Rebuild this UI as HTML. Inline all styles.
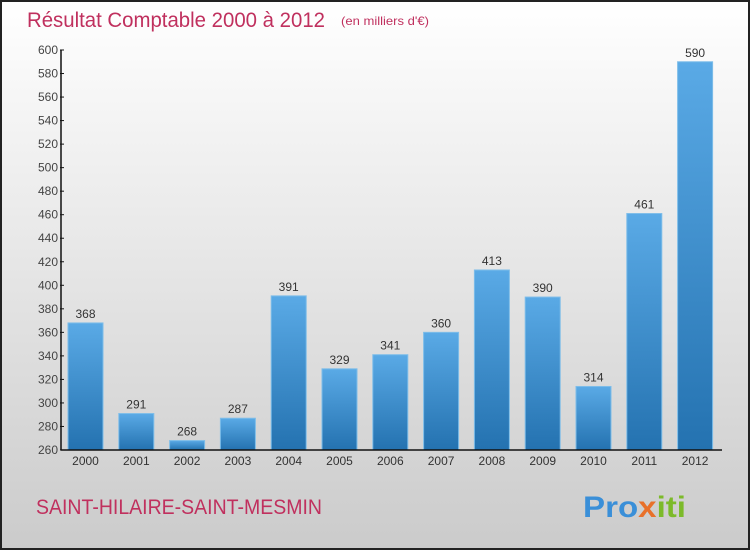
<!DOCTYPE html>
<html><head><meta charset="utf-8"><style>
html,body{margin:0;padding:0}
body{width:750px;height:550px;overflow:hidden}
svg{display:block;font-family:"Liberation Sans",sans-serif}
</style></head><body>
<svg width="750" height="550">
<defs>
<linearGradient id="bg" x1="0" y1="0" x2="0" y2="1"><stop offset="0" stop-color="#ffffff"/><stop offset="1" stop-color="#cbcbcb"/></linearGradient>
<linearGradient id="bar" x1="0" y1="0" x2="0" y2="1"><stop offset="0" stop-color="#5aaae6"/><stop offset="1" stop-color="#2472b0"/></linearGradient>
</defs>
<rect x="1" y="1" width="748" height="548" fill="url(#bg)" stroke="#222" stroke-width="2"/>
<text x="27" y="27" font-size="21" fill="#c0305e" textLength="298" lengthAdjust="spacingAndGlyphs">Résultat Comptable 2000 à 2012</text>
<text x="341" y="25" font-size="12" fill="#c0305e" textLength="88" lengthAdjust="spacingAndGlyphs">(en milliers d'€)</text>
<g id="yaxis"></g>
<g id="bars"></g>
<g id="xaxis"></g>
<text x="36" y="514" font-size="21" fill="#c0305e" textLength="286" lengthAdjust="spacingAndGlyphs">SAINT-HILAIRE-SAINT-MESMIN</text>
<text x="583" y="517" font-size="30" font-weight="bold" textLength="103" lengthAdjust="spacingAndGlyphs"><tspan fill="#3a8fd8">Pro</tspan><tspan fill="#e8702a">x</tspan><tspan fill="#7cba2a">iti</tspan></text>
</svg>
<script>
const categories=["2000","2001","2002","2003","2004","2005","2006","2007","2008","2009","2010","2011","2012"];
const values=[368,291,268,287,391,329,341,360,413,390,314,461,590];
const yTicks=[260,280,300,320,340,360,380,400,420,440,460,480,500,520,540,560,580,600];
const NS="http://www.w3.org/2000/svg";
const yMin=260,yMax=600,plotTop=50,plotBot=450,axX=61;
function y(v){return plotBot-(v-yMin)/(yMax-yMin)*(plotBot-plotTop);}
function xc(i){return 85.5+i*50.8;}
function mk(t,a,p,txt){const e=document.createElementNS(NS,t);for(const k in a)e.setAttribute(k,a[k]);if(txt!==undefined)e.textContent=txt;p.appendChild(e);return e;}
const ya=document.getElementById('yaxis'),ba=document.getElementById('bars'),xa=document.getElementById('xaxis');
const yl=mk('line',{x1:axX,y1:plotTop,x2:axX,y2:plotBot,stroke:'#111','stroke-width':1.5},ya);


yTicks.forEach(v=>{
 const t=mk('line',{x1:axX-1,y1:y(v),x2:axX+3,y2:y(v),stroke:'#111'},ya);
 
 
 const l=mk('text',{x:axX-3,y:y(v)+4,'font-size':12,fill:'#444','text-anchor':'end'},ya,v);
 
 
});
const xl=mk('line',{x1:axX,y1:plotBot,x2:722,y2:plotBot,stroke:'#111','stroke-width':1.5},xa);


categories.forEach((c,i)=>{
 const v=values[i],w=35;
 const r=mk('rect',{x:xc(i)-w/2,y:y(v),width:w,height:plotBot-y(v),fill:'url(#bar)',stroke:'#7dbde9','stroke-width':1},ba);
 
 
 const vl=mk('text',{x:xc(i),y:y(v)-5,'font-size':12,fill:'#333','text-anchor':'middle'},ba,v);
 
 
 const xl2=mk('text',{x:xc(i),y:plotBot+15,'font-size':12,fill:'#333','text-anchor':'middle'},xa,c);
 
 
});
</script>
</body></html>
